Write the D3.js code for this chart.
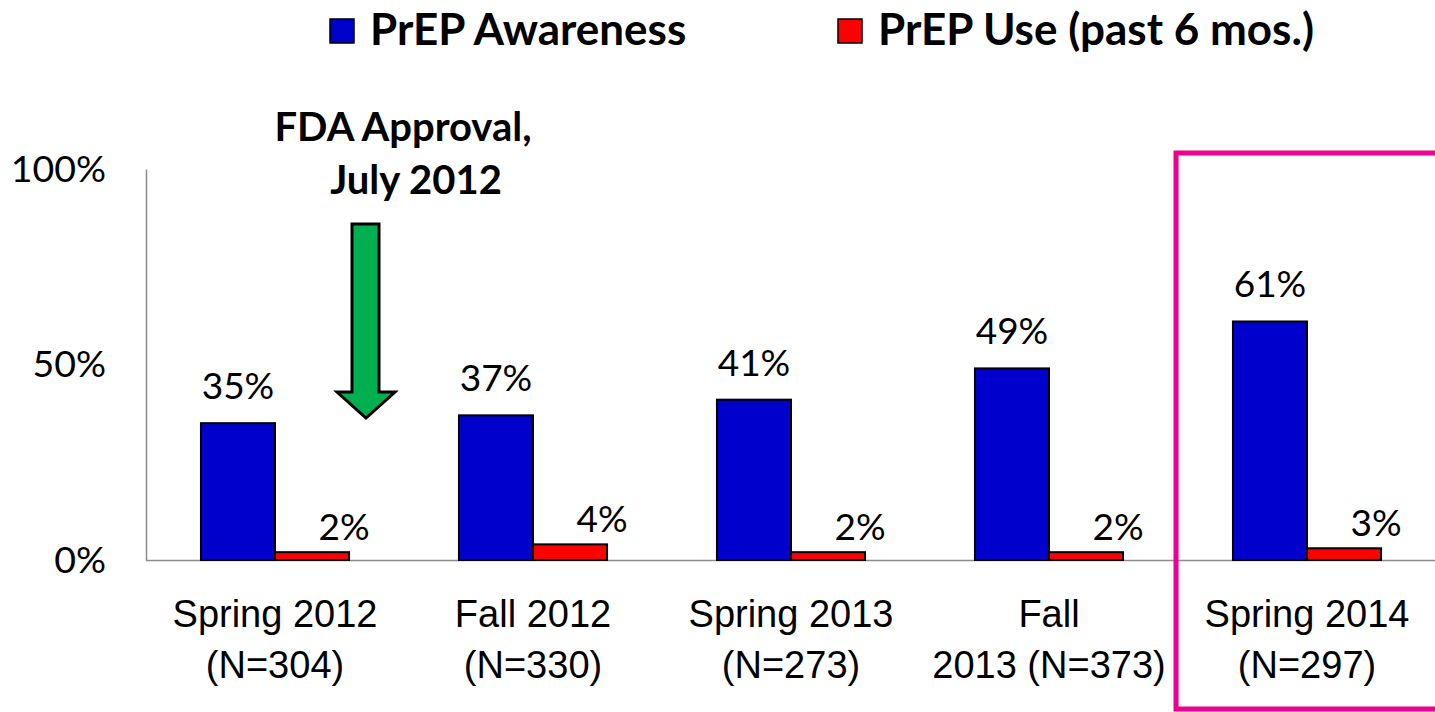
<!DOCTYPE html>
<html><head><meta charset="utf-8">
<script src="https://cdn.jsdelivr.net/npm/d3@7"></script>
<style>
html,body{margin:0;padding:0;background:#fff;}
svg{display:block;font-family:Lato,"Open Sans",sans-serif;}
</style></head>
<body>
<svg id="chart" width="1435" height="712"></svg>
<script>
const categories = ["Spring 2012", "Fall 2012", "Spring 2013", "Fall", "Spring 2014"];
const categorySub = ["(N=304)", "(N=330)", "(N=273)", "2013 (N=373)", "(N=297)"];
const awareness = [0.35, 0.37, 0.41, 0.49, 0.61];
const prepUse = [0.02, 0.04, 0.02, 0.02, 0.03];
const yTicks = [0, 0.5, 1];
const seriesNames = ["PrEP Awareness", "PrEP Use (past 6 mos.)"];
const seriesColors = ["#0000CC", "#FF0000"];

const svg = d3.select("#chart");
const x0 = d3.scaleBand().domain(categories).range([146, 1436]).paddingInner(0.426).paddingOuter(0.213);
const x1 = d3.scaleBand().domain([0, 1]).range([0, x0.bandwidth()]);
const y = d3.scaleLinear().domain([0, 1]).range([560, 169]);

// axes
const yAxis = svg.append("g").attr("transform", "translate(146,0)")
  .call(d3.axisLeft(y).tickValues(yTicks).tickSize(0).tickPadding(40).tickFormat(d3.format(".0%")));
yAxis.select(".domain").attr("stroke", "#8c8c8c").attr("stroke-width", 1.5);
yAxis.selectAll("text").attr("font-size", 37.5).attr("fill", "#000").attr("font-family", "Lato");

const xAxis = svg.append("g").attr("transform", "translate(0,560)")
  .call(d3.axisBottom(x0).tickSize(0).tickFormat(""));
xAxis.select(".domain").attr("stroke", "#8c8c8c").attr("stroke-width", 1.5).attr("d", "M146,0.5H1435");
xAxis.selectAll(".tick").each(function(d, i) {
  const t = d3.select(this).append("text").attr("fill", "#000").attr("font-size", 38)
    .attr("text-anchor", "middle");
  t.append("tspan").attr("x", 0).attr("y", 67).text(categories[i]);
  t.append("tspan").attr("x", 0).attr("y", 118).text(categorySub[i]);
});

// bars
const groups = svg.append("g").selectAll("g").data(categories).join("g")
  .attr("transform", d => `translate(${x0(d)},0)`);
groups.each(function(c, i) {
  const g = d3.select(this);
  const vals = [awareness[i], prepUse[i]];
  vals.forEach((v, s) => {
    g.append("rect").attr("x", x1(s)).attr("y", y(v)).attr("width", x1.bandwidth())
      .attr("height", y(0) - y(v)).attr("fill", seriesColors[s]).attr("stroke", "#000").attr("stroke-width", 2);
    g.append("text").attr("x", x1(s) + x1.bandwidth() / 2 + (s === 1 ? 32 : 0))
      .attr("y", s === 0 ? y(v) - 24 : y(v) - 12)
      .attr("text-anchor", "middle").attr("font-size", 37).attr("fill", "#000")
      .text(d3.format(".0%")(v));
  });
});

// legend
const legendX = [330, 838];
seriesNames.forEach((n, i) => {
  svg.append("rect").attr("x", legendX[i]).attr("y", 19).attr("width", 24).attr("height", 24)
    .attr("fill", seriesColors[i]).attr("stroke", "#000").attr("stroke-width", 1.5);
  svg.append("text").attr("x", legendX[i] + 40).attr("y", 45).attr("font-size", 44)
    .attr("font-weight", "bold").attr("fill", "#000").text(n);
});

// FDA annotation
const ann = svg.append("text").attr("text-anchor", "middle").attr("font-size", 40)
  .attr("font-weight", "bold").attr("fill", "#000");
ann.append("tspan").attr("x", 403).attr("y", 141).text("FDA Approval,");
ann.append("tspan").attr("x", 416).attr("y", 194).text("July 2012");

svg.append("path")
  .attr("d", "M352,224 H379 V392 H395 L366,418 L337,392 H352 Z")
  .attr("fill", "#00B050").attr("stroke", "#000").attr("stroke-width", 3).attr("stroke-linejoin", "miter");

// highlight box
svg.append("path").attr("d", "M1440,153 H1176 V709 H1440")
  .attr("fill", "none").attr("stroke", "#EC008C").attr("stroke-width", 5);
</script>
</body></html>
